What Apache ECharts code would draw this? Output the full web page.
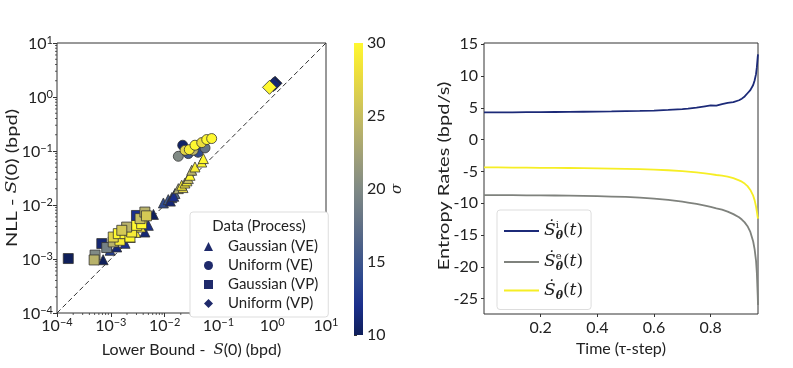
<!DOCTYPE html>
<html>
<head>
<meta charset="utf-8">
<script src="https://cdn.jsdelivr.net/npm/echarts@6/dist/echarts.min.js"></script>
<style>
html,body{margin:0;padding:0;background:#fff}
#main{width:793px;height:368px}
</style>
</head>
<body>
<div id="main"></div>
<script>
var FONT = 'Lato';
var MATH = 'DejaVu Serif';
var INK = '#222';

// left panel: [lower bound, nll, sigma]
var gaussVE = [
  [7.2e-4, 0.97e-3, 10], [9.7e-4, 1.45e-3, 13], [1.29e-3, 1.67e-3, 11], [1.84e-3, 1.95e-3, 12],
  [2.3e-3, 2.5e-3, 26], [2.9e-3, 3.1e-3, 29], [4.3e-3, 3.16e-3, 11], [4.98e-3, 4.2e-3, 12],
  [3.6e-3, 3.9e-3, 28], [6.2e-3, 6.7e-3, 10], [9.5e-3, 0.0109, 14], [0.0117, 0.0126, 15],
  [0.0136, 0.0137, 13], [0.0156, 0.0163, 16], [0.0128, 0.0118, 11], [0.0148, 0.0145, 12],
  [0.018, 0.0201, 23], [0.022, 0.021, 27], [0.0208, 0.0232, 29], [0.0239, 0.0255, 28],
  [0.026, 0.028, 30], [0.0276, 0.0308, 25], [0.0297, 0.0355, 30], [0.0319, 0.044, 24],
  [0.0367, 0.0506, 29], [0.049, 0.0625, 30], [0.0525, 0.0723, 30]
];
var uniformVE = [
  [0.0217, 0.128, 10.5], [0.018, 0.0798, 20], [0.0276, 0.0895, 15], [0.0418, 0.0946, 14],
  [0.0564, 0.114, 18], [0.0341, 0.103, 24], [0.024, 0.103, 27], [0.0288, 0.106, 29],
  [0.0367, 0.128, 30], [0.049, 0.143, 28], [0.0607, 0.163, 30], [0.075, 0.170, 30]
];
var gaussVP = [
  [1.62e-4, 1.02e-3, 10], [5.1e-4, 1.18e-3, 20], [4.9e-4, 0.96e-3, 24], [6.8e-4, 1.93e-3, 11],
  [8.4e-4, 1.63e-3, 19], [1.11e-3, 2.07e-3, 24], [1.48e-3, 2.22e-3, 29], [1.11e-3, 2.55e-3, 27],
  [1.38e-3, 2.95e-3, 30], [1.84e-3, 2.95e-3, 30], [2.27e-3, 2.55e-3, 30], [2.44e-3, 3.16e-3, 29],
  [1.97e-3, 3.9e-3, 24], [1.6e-3, 3.4e-3, 26], [3.03e-3, 4.2e-3, 30], [3.0e-3, 6.4e-3, 12],
  [3.75e-3, 4.5e-3, 30], [3.5e-3, 5.6e-3, 25], [4.3e-3, 7.4e-3, 24], [4.6e-3, 6.3e-3, 26]
];
var uniformVP = [[1.13, 1.80, 10], [1.05, 1.70, 11], [0.89, 1.51, 30]];
var diagonal = [[1e-4, 1e-4], [10, 10]];

// right panel
var time = [0, 0.05, 0.1, 0.15, 0.2, 0.25, 0.3, 0.35, 0.4, 0.45, 0.5, 0.55, 0.6, 0.65, 0.7, 0.72, 0.75,
  0.78, 0.8, 0.82, 0.84, 0.86, 0.88, 0.9, 0.91, 0.92, 0.93, 0.94, 0.95, 0.955, 0.96, 0.963, 0.966, 0.967];
var rateI = [4.30, 4.30, 4.31, 4.32, 4.33, 4.35, 4.37, 4.39, 4.41, 4.44, 4.48, 4.52, 4.58, 4.68, 4.82, 4.90, 5.05,
  5.25, 5.38, 5.35, 5.6, 5.8, 5.9, 6.2, 6.45, 6.8, 7.3, 7.8, 8.6, 9.3, 10.3, 11.4, 13.0, 13.4];
var rateE = [-8.70, -8.71, -8.72, -8.74, -8.75, -8.77, -8.80, -8.84, -8.88, -8.94, -9.0, -9.1, -9.25, -9.45, -9.75, -9.88, -10.1,
  -10.35, -10.55, -10.8, -11.0, -11.3, -11.7, -12.2, -12.55, -13.0, -13.6, -14.5, -16.0, -17.2, -19.0, -21.0, -24.5, -26.0];
var rate = [-4.35, -4.36, -4.38, -4.40, -4.42, -4.43, -4.45, -4.47, -4.50, -4.54, -4.58, -4.63, -4.70, -4.80, -4.95, -5.02, -5.15,
  -5.3, -5.4, -5.55, -5.65, -5.8, -6.05, -6.4, -6.6, -6.9, -7.3, -7.9, -8.8, -9.5, -10.5, -11.3, -12.2, -12.4];

var CMAP = ['#0f1f5a', '#1b2f8c', '#2f4a8e', '#4a5f88', '#677585', '#808a85',
            '#9c9d7a', '#b8b26a', '#d4c955', '#eedf3c', '#fff830'];

var myChart = echarts.init(document.getElementById('main'));

function pairs(xs, ys) {
  return xs.map(function (x, i) { return [x, ys[i]]; });
}
function logLabel(v) {
  var e = Math.round(Math.log10(v));
  return '{b|10}{s|' + (e < 0 ? '\u2212' + (-e) : e) + '}';
}
var logRich = {
  b: {fontFamily: FONT, fontSize: 16, color: INK, lineHeight: 17, verticalAlign: 'bottom'},
  s: {fontFamily: FONT, fontSize: 11, color: INK, lineHeight: 11, verticalAlign: 'top', padding: [0, 0, 9, 0]}
};
var minors = [];
for (var k = -4; k < 1; k++) {
  for (var m = 2; m < 10; m++) minors.push(m * Math.pow(10, k));
}
var mathRich = {
  S: {fontFamily: MATH, fontStyle: 'italic', fontSize: 17, color: INK, lineHeight: 22, verticalAlign: 'middle'},
  up: {fontFamily: MATH, fontSize: 10, color: INK, lineHeight: 10, verticalAlign: 'top', width: 0},
  th: {fontFamily: MATH, fontStyle: 'italic', fontWeight: 'bold', fontSize: 11, color: INK, lineHeight: 10, verticalAlign: 'bottom'},
  p: {fontFamily: MATH, fontSize: 17, color: INK, lineHeight: 22, verticalAlign: 'middle'},
  t: {fontFamily: MATH, fontStyle: 'italic', fontSize: 17, color: INK, lineHeight: 22, verticalAlign: 'middle'}
};
var mathNames = {
  Si: '{S|\u1E60}{up|i}{th|\u03B8}{p|(}{t|t}{p|)}',
  Se: '{S|\u1E60}{up|e}{th|\u03B8}{p|(}{t|t}{p|)}',
  S: '{S|\u1E60}{th|\u03B8}{p|(}{t|t}{p|)}'
};

function scatterSeries(name, symbol, size, data) {
  return {
    name: name, type: 'scatter', xAxisIndex: 0, yAxisIndex: 0,
    symbol: symbol, symbolSize: size, data: data, z: 3,
    itemStyle: {color: '#1f2a6b', borderColor: '#333', borderWidth: 0.8, opacity: 1}
  };
}
// the picture is a little stretched vertically, so the rotated names are too
function yName(x, y, rich) {
  return {
    type: 'text', x: x, y: y, rotation: Math.PI / 2, scaleX: 1.25, silent: true,
    style: {text: rich.text, rich: rich.rich, font: '16px ' + FONT, fill: INK, align: 'center', verticalAlign: 'middle'}
  };
}

var option = {
  animation: false,
  textStyle: {fontFamily: FONT},
  title: {
    text: 'Data (Process)', left: 254, top: 214, textAlign: 'center',
    textStyle: {fontFamily: FONT, fontSize: 15, fontWeight: 'normal', color: INK}
  },
  graphic: [
    yName(12, 178, {text: 'NLL - {i|S}(0) (bpd)',
      rich: {i: {fontFamily: MATH, fontStyle: 'italic', fontSize: 15, fill: INK}}}),
    yName(444, 176, {text: 'Entropy Rates (bpd/s)'})
  ],
  grid: [
    {left: 57, top: 43, width: 269, height: 270, show: true, borderColor: '#333', borderWidth: 1},
    {left: 484, top: 43, width: 274, height: 271, show: true, borderColor: '#333', borderWidth: 1},
    {left: 354, top: 43, width: 9, height: 292}
  ],
  xAxis: [
    {
      type: 'log', logBase: 10, min: 1e-4, max: 10, gridIndex: 0,
      name: 'Lower Bound -  {i|S}(0) (bpd)', nameLocation: 'middle', nameGap: 19,
      nameTextStyle: {fontFamily: FONT, fontSize: 16, color: INK,
        rich: {i: {fontFamily: MATH, fontStyle: 'italic', fontSize: 15, color: INK}}},
      axisLine: {show: false, onZero: false},
      axisTick: {show: true, length: 4, lineStyle: {color: '#333'}},
      splitLine: {show: false},
      axisLabel: {formatter: logLabel, rich: logRich, margin: 4}
    },
    {
      type: 'value', min: 0, max: 0.967, interval: 0.2, gridIndex: 1,
      name: 'Time (\u03C4-step)', nameLocation: 'middle', nameGap: 18,
      nameTextStyle: {fontFamily: FONT, fontSize: 16, color: INK},
      axisLine: {show: false, onZero: false},
      axisTick: {show: true, length: 3, lineStyle: {color: '#333'}},
      splitLine: {show: false},
      axisLabel: {fontFamily: FONT, fontSize: 16, color: INK, margin: 6, showMinLabel: false, showMaxLabel: false,
        formatter: function (v) { return v === 0 ? '' : v.toFixed(1); }}
    },
    {type: 'value', min: 0, max: 1, gridIndex: 2, show: false}
  ],
  yAxis: [
    {
      type: 'log', logBase: 10, min: 1e-4, max: 10, gridIndex: 0,
      axisLine: {show: false, onZero: false},
      axisTick: {show: true, length: 4, lineStyle: {color: '#333'}},
      splitLine: {show: false},
      axisLabel: {formatter: logLabel, rich: logRich, margin: 4}
    },
    {
      type: 'value', min: -27.4, max: 15.2, splitNumber: 8, gridIndex: 1,
      axisLine: {show: false, onZero: false},
      axisTick: {show: true, length: 3, lineStyle: {color: '#333'}},
      splitLine: {show: false},
      axisLabel: {fontFamily: FONT, fontSize: 16, color: INK, margin: 6, showMinLabel: false, showMaxLabel: false}
    },
    {
      type: 'value', min: 10, max: 30, interval: 5, gridIndex: 2, position: 'right',
      name: '\u03C3', nameLocation: 'middle', nameGap: 23, nameRotate: 90,
      nameTextStyle: {fontFamily: MATH, fontStyle: 'italic', fontSize: 15, color: INK},
      axisLine: {show: false},
      axisTick: {show: true, length: 3, lineStyle: {color: '#333'}},
      splitLine: {show: false},
      axisLabel: {fontFamily: FONT, fontSize: 16, color: INK, margin: 4}
    }
  ],
  visualMap: {
    type: 'continuous', show: false, min: 10, max: 30, dimension: 2,
    seriesIndex: [1, 2, 3, 4], inRange: {color: CMAP}
  },
  legend: [
    {
      left: 190, top: 212, width: 130, orient: 'vertical',
      padding: [27, 10, 6, 14], itemGap: 4, itemWidth: 9, itemHeight: 9,
      borderColor: '#ddd', borderWidth: 1, borderRadius: 3, backgroundColor: '#fff',
      data: ['Gaussian (VE)', 'Uniform (VE)', 'Gaussian (VP)', 'Uniform (VP)'],
      itemStyle: {color: '#1f2a6b', borderWidth: 0},
      textStyle: {fontFamily: FONT, fontSize: 15, color: INK, padding: [0, 0, 0, 10]}
    },
    {
      left: 497, top: 210, orient: 'vertical', icon: 'rect',
      padding: [10, 8, 8, 7], itemGap: 9, itemWidth: 35, itemHeight: 2,
      borderColor: '#ddd', borderWidth: 1, borderRadius: 3, backgroundColor: '#fff',
      data: ['Si', 'Se', 'S'],
      formatter: function (name) { return mathNames[name]; },
      textStyle: {rich: mathRich}
    }
  ],
  series: [
    {
      type: 'line', xAxisIndex: 0, yAxisIndex: 0, data: diagonal, symbol: 'none', z: 2,
      lineStyle: {color: '#333', width: 1, type: [5, 3]}, silent: true
    },
    scatterSeries('Gaussian (VE)', 'triangle', 10, gaussVE),
    scatterSeries('Uniform (VE)', 'circle', 10, uniformVE),
    scatterSeries('Gaussian (VP)', 'rect', 10, gaussVP),
    scatterSeries('Uniform (VP)', 'diamond', 14, uniformVP),
    {
      type: 'custom', xAxisIndex: 0, yAxisIndex: 0, data: minors, silent: true, z: 1,
      renderItem: function (params, api) {
        var v = api.value(0);
        var b = api.coord([v, 1e-4]);
        var l = api.coord([1e-4, v]);
        return {
          type: 'group',
          children: [
            {type: 'line', shape: {x1: b[0], y1: b[1], x2: b[0], y2: b[1] + 2}, style: {stroke: '#333', lineWidth: 0.8}},
            {type: 'line', shape: {x1: l[0], y1: l[1], x2: l[0] - 2, y2: l[1]}, style: {stroke: '#333', lineWidth: 0.8}}
          ]
        };
      }
    },
    {
      name: 'Si', type: 'line', xAxisIndex: 1, yAxisIndex: 1, data: pairs(time, rateI),
      symbol: 'none', color: '#1c2a78', lineStyle: {width: 1.8}
    },
    {
      name: 'Se', type: 'line', xAxisIndex: 1, yAxisIndex: 1, data: pairs(time, rateE),
      symbol: 'none', color: '#7f827d', lineStyle: {width: 1.8}
    },
    {
      name: 'S', type: 'line', xAxisIndex: 1, yAxisIndex: 1, data: pairs(time, rate),
      symbol: 'none', color: '#f6ee25', lineStyle: {width: 1.8}
    },
    {
      type: 'custom', xAxisIndex: 2, yAxisIndex: 2, data: [[0, 10]], silent: true,
      renderItem: function (params, api) {
        var p0 = api.coord([0, 10]);
        var p1 = api.coord([1, 30]);
        var stops = CMAP.map(function (c, i) { return {offset: i / (CMAP.length - 1), color: c}; });
        return {
          type: 'rect',
          shape: {x: p0[0], y: p1[1], width: p1[0] - p0[0], height: p0[1] - p1[1]},
          style: {fill: new echarts.graphic.LinearGradient(0, 1, 0, 0, stops)}
        };
      }
    }
  ]
};

myChart.setOption(option);
</script>
</body>
</html>
